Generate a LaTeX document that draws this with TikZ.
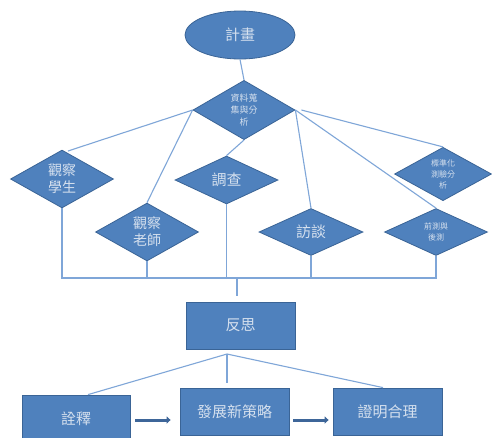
\documentclass[tikz,border=0pt]{standalone}
\usepackage{fontspec}
\setmainfont{Noto Sans CJK TC}
\usetikzlibrary{shapes.geometric,arrows.meta,calc}
\definecolor{fillb}{HTML}{4F81BD}
\definecolor{edgeb}{HTML}{3A6496}
\definecolor{txtc}{HTML}{D5E0EE}
\definecolor{linec}{HTML}{7FA6D8}
\definecolor{arrc}{HTML}{3E6699}
\tikzset{
  dia/.style={diamond, draw=edgeb, fill=fillb, line width=0.8pt, inner sep=0pt, text=txtc, align=center},
  box/.style={rectangle, draw=edgeb, fill=fillb, line width=0.8pt, inner sep=0pt, text=txtc, align=center, minimum width=109pt, minimum height=47pt},
  conn/.style={draw=linec, line width=1.1pt},
  flow/.style={draw=arrc, line width=3pt, -{Triangle[length=4pt,width=7pt]}},
  big/.style={font=\fontsize{15}{17}\selectfont},
  mid/.style={font=\fontsize{14}{17}\selectfont},
  tiny/.style={font=\fontsize{8}{11}\selectfont},
}
\begin{document}
\begin{tikzpicture}[x=1pt,y=-1pt]
\useasboundingbox (0,0) rectangle (492,437);
\clip (0,0) rectangle (492,437);
\fill[white] (0,0) rectangle (492,437);
% nodes
\node[ellipse, draw=edgeb, fill=fillb, line width=0.8pt, text=txtc, minimum width=110pt, minimum height=48pt, inner sep=0pt, big] (plan) at (240,35) {計畫};
\node[dia, minimum width=102pt, minimum height=46pt, font=\fontsize{9}{12}\selectfont] (collect) at (244,110) {資料蒐\\集與分\\析};
\node[dia, minimum width=103pt, minimum height=48pt, mid] (stu) at (62,179) {觀察\\學生};
\node[dia, minimum width=103pt, minimum height=48pt, mid] (tea) at (147,232) {觀察\\老師};
\node[dia, minimum width=103pt, minimum height=48pt, big] (survey) at (226.5,180) {調查};
\node[dia, minimum width=104pt, minimum height=47pt, big] (inter) at (311,232) {訪談};
\node[dia, minimum width=103pt, minimum height=47pt, tiny] (test) at (436,232) {前測與\\後測};
\node[dia, minimum width=97pt, minimum height=47pt, tiny] (std) at (443,174) {標準化\\測驗分\\析};
\node[box, big] (refl) at (240.5,325.5) {反思};
\node[box, minimum width=108pt, big] (interp) at (76,418.5) {詮釋};
\node[box, big] (dev) at (234.5,411.5) {發展新策略};
\node[box, big] (just) at (387.5,411.5) {證明合理};
% connectors
\coordinate (busL) at (62,278);
\coordinate (busR) at (436,278);
\coordinate (busM) at (237,278);
\coordinate (reflIn) at (237,296);
\coordinate (reflOut) at (227,354);
\coordinate (devStop) at (227,383);
\coordinate (stuEnd) at (68,151);
\draw[conn] (plan.south) -- (collect.north);
\draw[conn] (collect.west) -- (stuEnd);
\draw[conn] (collect.west) -- (tea.north);
\draw[conn] (collect.south) -- (survey.north);
\draw[conn] (collect.east) -- (inter.north);
\draw[conn] (collect.east) -- (test.north);
\draw[conn] ($(collect.east)+(6,0)$) -- (std.north);
\draw[conn] (stu.south) -- (busL) -- (busR) -- (test.south);
\draw[conn] (tea.south) -- (tea.south |- busL);
\draw[conn] (survey.south) -- (survey.south |- busL);
\draw[conn] (inter.south) -- (inter.south |- busL);
\draw[conn] (busM) -- (reflIn);
\draw[conn] (reflOut) -- ($(interp.north)+(12,0)$);
\draw[conn] (reflOut) -- (devStop);
\draw[conn] (reflOut) -- ($(just.north)+(-4.5,0)$);
\draw[flow] ($(interp.east)+(5,1.5)$) -- ($(dev.west)+(-9,8.5)$);
\draw[flow] ($(dev.east)+(4,8.5)$) -- ($(just.west)+(-4,8.5)$);
\end{tikzpicture}
\end{document}
